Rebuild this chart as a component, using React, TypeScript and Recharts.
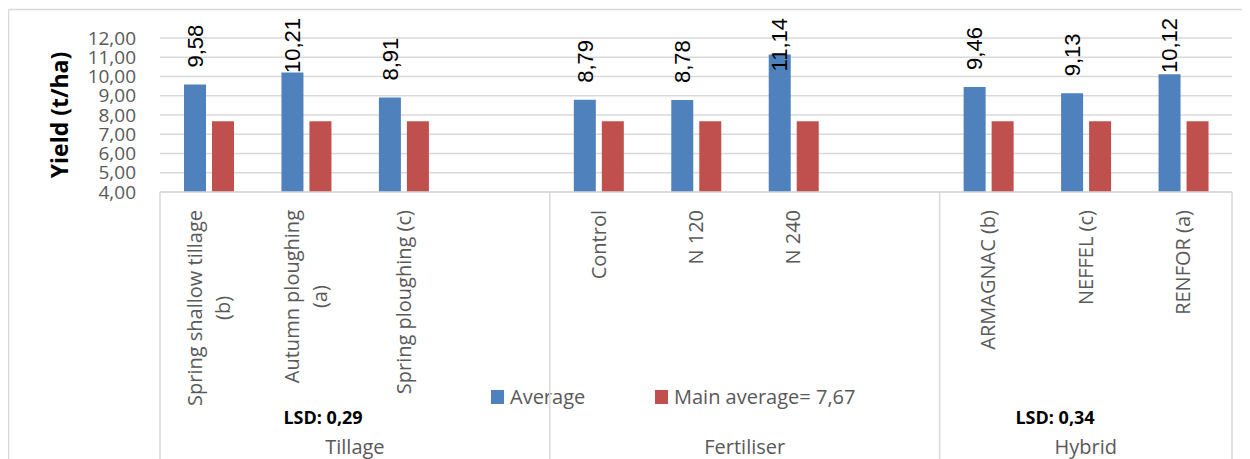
import { BarChart, Bar, XAxis, YAxis, CartesianGrid, Legend, LabelList } from "recharts";

const categories = [
  "Spring shallow tillage\n(b)",
  "Autumn ploughing\n(a)",
  "Spring ploughing (c)",
  "",
  "Control",
  "N 120",
  "N 240",
  "",
  "ARMAGNAC (b)",
  "NEFFEL (c)",
  "RENFOR (a)",
];
const averages = [9.58, 10.21, 8.91, null, 8.79, 8.78, 11.14, null, 9.46, 9.13, 10.12];
const mainAverage = [7.67, 7.67, 7.67, null, 7.67, 7.67, 7.67, null, 7.67, 7.67, 7.67];
const groups = ["Tillage", "Fertiliser", "Hybrid"];
const groupSizes = [4, 4, 3];
const lsdLabels = ["LSD: 0,29", "LSD: 0,34"];
const yTicks = [4, 5, 6, 7, 8, 9, 10, 11, 12];

const data = categories.map((label, i) => ({
  key: i,
  label,
  average: averages[i],
  main: mainAverage[i],
}));

// layout
const W = 1242;
const H = 451;
const PLOT_LEFT = 152;
const PLOT_RIGHT = 1224;
const PLOT_TOP = 30;
const PLOT_BOTTOM = 184;
const GRID = "#d9d9d9";
const GREY = "#595959";
const FONT = '"Open Sans", sans-serif';

let ctx: CanvasRenderingContext2D | null = null;
function textWidth(text: string, font: string) {
  if (!ctx) ctx = document.createElement("canvas").getContext("2d");
  if (!ctx) return text.length * 10;
  ctx.font = font;
  return ctx.measureText(text).width;
}

const fmt = (v: number) => v.toFixed(2).replace(".", ",");

function YTick(props: any) {
  const { y, payload } = props;
  return (
    <text x={PLOT_LEFT - 24} y={y} dy="0.35em" textAnchor="end" fontFamily={FONT} fontSize={19} fill={GREY}>
      {fmt(payload.value)}
    </text>
  );
}

function XTick(props: any) {
  const { x, payload } = props;
  const label = categories[payload.value] || "";
  if (!label) return null;
  const lines = label.split("\n");
  const maxLen = Math.max(...lines.map((l) => textWidth(l, `20px "Open Sans"`)));
  const cy = PLOT_BOTTOM + 18 + maxLen / 2;
  const lineH = 28;
  return (
    <g>
      {lines.map((l, i) => {
        const lx = x + (i - (lines.length - 1) / 2) * lineH;
        return (
          <text
            key={i}
            x={lx}
            y={cy}
            dy="0.35em"
            textAnchor="middle"
            transform={`rotate(-90, ${lx}, ${cy})`}
            fontFamily={FONT}
            fontSize={20}
            fill={GREY}
          >
            {l}
          </text>
        );
      })}
    </g>
  );
}

function ValueLabel(props: any) {
  const { x, y, width, value } = props;
  if (value == null) return null;
  const text = fmt(value);
  const font = `22px "Liberation Sans"`;
  const len = textWidth(text, font);
  const cx = x + width / 2;
  // outside end, but kept inside the chart's top edge
  const startY = Math.max(y - 17, 10 + len);
  return (
    <text
      x={cx}
      y={startY}
      dy="0.35em"
      textAnchor="start"
      transform={`rotate(-90, ${cx}, ${startY})`}
      fontFamily='"Liberation Sans", Arial, sans-serif'
      fontSize={22}
      fill="#000"
    >
      {text}
    </text>
  );
}

function LegendContent(props: any) {
  const { payload } = props;
  return (
    <div style={{ display: "flex", alignItems: "center", fontFamily: FONT, fontSize: 20, color: GREY }}>
      {(payload || []).map((p: any, i: number) => (
        <div key={i} style={{ display: "flex", alignItems: "center", width: i === 0 ? 164 : "auto", whiteSpace: "nowrap" }}>
          <span style={{ display: "inline-block", width: 13, height: 14, background: p.color, marginRight: 6 }} />
          <span>{p.value}</span>
        </div>
      ))}
    </div>
  );
}

function Overlay() {
  const slot = (PLOT_RIGHT - PLOT_LEFT) / categories.length;
  const bounds: number[] = [PLOT_LEFT];
  groupSizes.forEach((n) => bounds.push(bounds[bounds.length - 1] + n * slot));
  const lsdPos = [
    { x: 315, y: 410 },
    { x: 1047, y: 410 },
  ];
  return (
    <svg width={W} height={H} style={{ position: "absolute", left: 0, top: 0, pointerEvents: "none" }}>
      <line x1={0.5} y1={1.5} x2={W} y2={1.5} stroke={GRID} strokeWidth={1.5} />
      <line x1={0.5} y1={1.5} x2={0.5} y2={H} stroke={GRID} strokeWidth={1.5} />
      {bounds.map((b, i) => (
        <line key={i} x1={b} y1={PLOT_BOTTOM} x2={b} y2={H} stroke={GRID} strokeWidth={1.5} />
      ))}
      {groups.map((g, i) => (
        <text
          key={g}
          x={(bounds[i] + bounds[i + 1]) / 2}
          y={439}
          dy="0.35em"
          textAnchor="middle"
          fontFamily={FONT}
          fontSize={20}
          fill={GREY}
        >
          {g}
        </text>
      ))}
      {lsdLabels.map((t, i) => (
        <text
          key={t}
          x={lsdPos[i].x}
          y={lsdPos[i].y}
          dy="0.35em"
          textAnchor="middle"
          fontFamily={FONT}
          fontWeight={700}
          fontSize={18}
          fill="#000"
        >
          {t}
        </text>
      ))}
      <text
        x={52}
        y={107}
        dy="0.35em"
        textAnchor="middle"
        transform="rotate(-90, 52, 107)"
        fontFamily={FONT}
        fontWeight={700}
        fontSize={23}
        fill="#000"
      >
        Yield (t/ha)
      </text>
    </svg>
  );
}

export default function App() {
  return (
    <div style={{ position: "relative", width: W, height: H }}>
      <BarChart
        width={W}
        height={H}
        data={data}
        margin={{ top: PLOT_TOP, right: W - PLOT_RIGHT, bottom: 0, left: 0 }}
        barSize={22}
        barGap={6}
      >
        <CartesianGrid vertical={false} stroke={GRID} strokeWidth={1.5} />
        <XAxis
          dataKey="key"
          type="category"
          height={H - PLOT_BOTTOM}
          axisLine={{ stroke: GRID, strokeWidth: 1.5 }}
          tickLine={false}
          interval={0}
          tick={<XTick />}
        />
        <YAxis
          domain={[4, 12]}
          ticks={yTicks}
          interval={0}
          width={PLOT_LEFT}
          axisLine={false}
          tickLine={false}
          tick={<YTick />}
          allowDataOverflow
        />
        <Legend
          layout="horizontal"
          verticalAlign="middle"
          align="center"
          wrapperStyle={{ left: 483, top: 375, width: 420 }}
          content={<LegendContent />}
        />
        <Bar dataKey="average" name="Average" fill="#4F81BD" isAnimationActive={false}>
          <LabelList dataKey="average" content={<ValueLabel />} />
        </Bar>
        <Bar dataKey="main" name="Main average= 7,67" fill="#C0504D" isAnimationActive={false} />
      </BarChart>
      <Overlay />
    </div>
  );
}
